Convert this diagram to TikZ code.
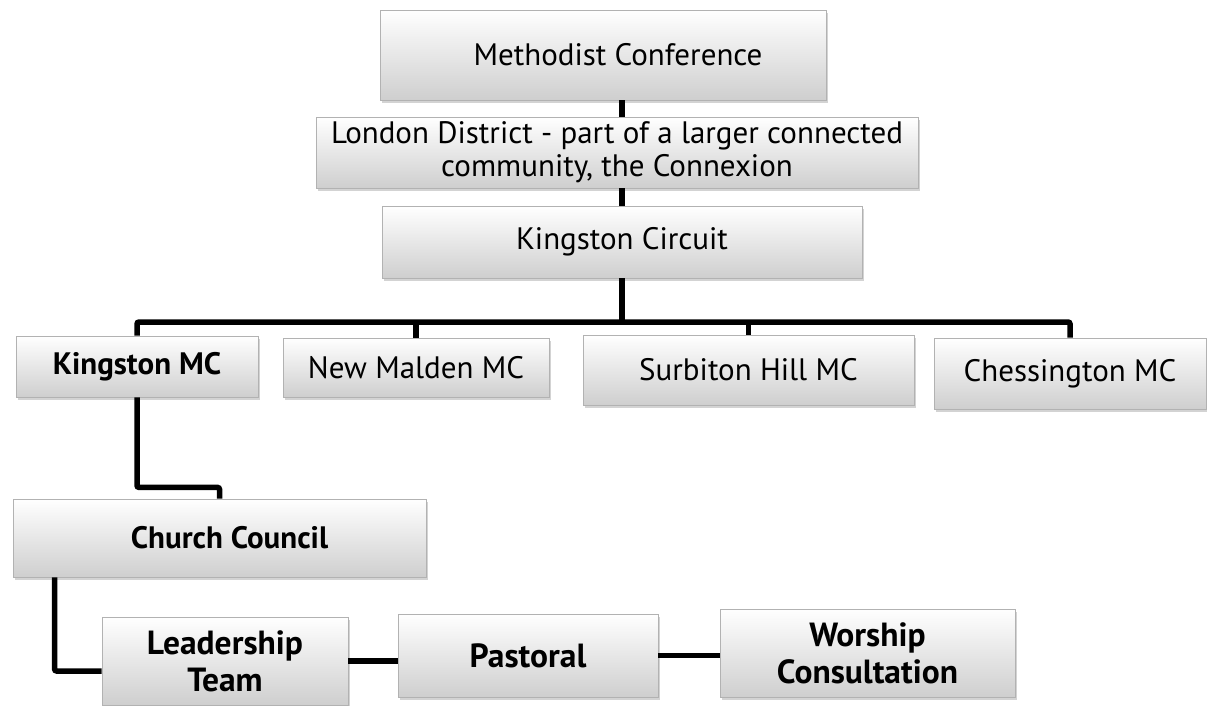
\documentclass[tikz,border=0pt]{standalone}
\usepackage{fontspec}
\setmainfont{PT Sans}
\usetikzlibrary{shadows,calc}
\tikzset{
  box/.style={draw=gray!60, line width=0.8pt, top color=white, bottom color=gray!38,
    drop shadow={shadow xshift=1.5pt, shadow yshift=-3pt, opacity=0.35},
    align=center, inner sep=0pt, anchor=center},
  conn/.style={line width=5.5pt, black, rounded corners=2pt},
  reg/.style={font=\fontsize{31}{33}\selectfont},
  bld/.style={font=\fontsize{31}{33}\selectfont\bfseries},
  bldb/.style={font=\fontsize{33.5}{37}\selectfont\bfseries},
}
\begin{document}
\begin{tikzpicture}[x=1pt,y=-1pt]
\useasboundingbox (0,0) rectangle (1207,706);
\node[box,reg,minimum width=446pt,minimum height=90pt] (mc) at (603,55) {\hspace*{30pt}Methodist Conference};
\node[box,reg,minimum width=602pt,minimum height=71pt] (ld) at (617,152.5) {London District - part of a larger connected\\community, the Connexion};
\node[box,reg,minimum width=480pt,minimum height=72pt] (circ) at (622,242) {Kingston Circuit};
\node[box,bld,minimum width=242pt,minimum height=61pt] (kmc) at (137,366.5) {Kingston MC};
\node[box,reg,minimum width=266pt,minimum height=59pt] (nm) at (416,367.5) {New Malden MC};
\node[box,reg,minimum width=331pt,minimum height=70pt] (sh) at (748.5,370) {Surbiton Hill MC};
\node[box,reg,minimum width=272pt,minimum height=71pt] (ch) at (1070,373.5) {Chessington MC};
\node[box,bld,minimum width=413pt,minimum height=78pt] (cc) at (219.5,538) {\hspace*{20pt}Church Council};
\node[box,bldb,minimum width=246pt,minimum height=88pt] (lt) at (225,661) {Leadership\\Team};
\node[box,bldb,minimum width=260pt,minimum height=83pt] (pas) at (528,655.5) {Pastoral};
\node[box,bldb,minimum width=295pt,minimum height=88pt] (ws) at (867.5,653) {Worship\\Consultation};
\coordinate (bus) at (622,322);
\draw[conn] (mc.south -| circ.north) -- (ld.north -| circ.north);
\draw[conn] (ld.south -| circ.north) -- (circ.north);
\draw[conn] (circ.south) -- (bus);
\draw[conn] (kmc.north) |- (bus) -| (ch.north);
\draw[conn] (nm.north) -- (nm.north |- bus);
\draw[conn] (sh.north) -- (sh.north |- bus);
\draw[conn] (kmc.south) -- ++(0,90) -| (cc.north);
\draw[conn] (cc.south west) ++(42,0) |- ($(lt.west)+(0,10)$);
\draw[conn] (lt.east) -- (lt.east -| pas.west);
\draw[conn] (pas.east) -- (pas.east -| ws.west);
\end{tikzpicture}
\end{document}
